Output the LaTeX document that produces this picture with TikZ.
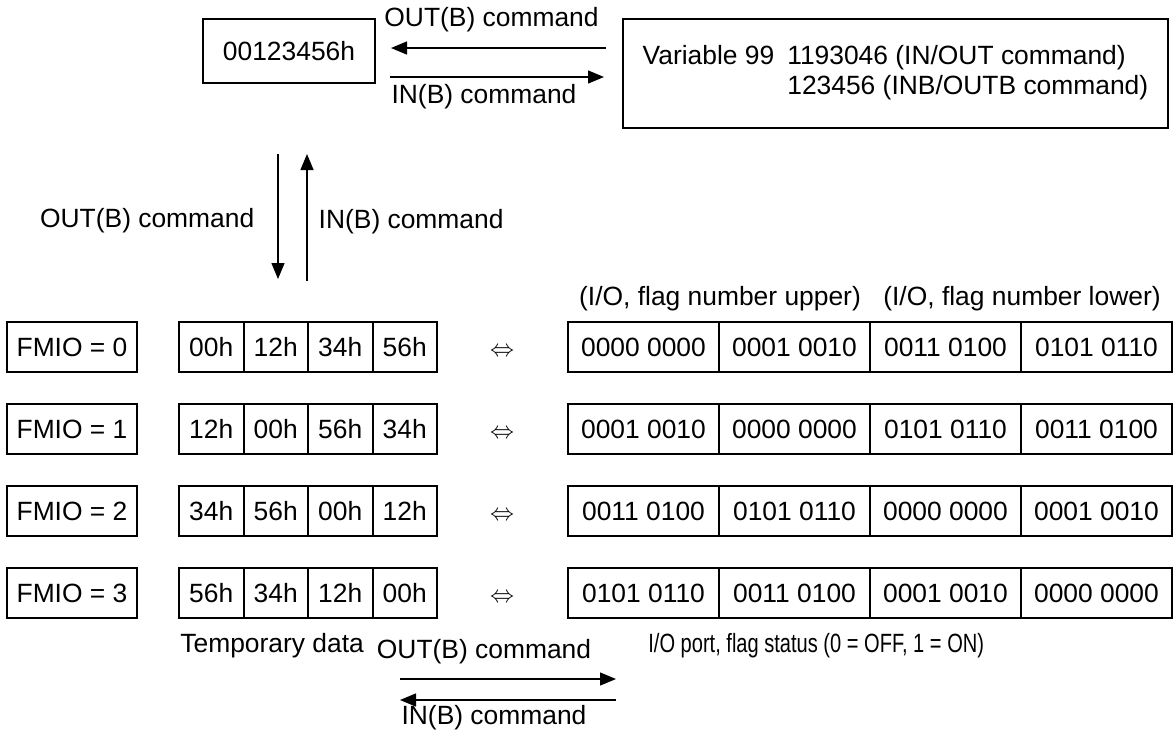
\documentclass[tikz,border=0pt]{standalone}
\usepackage{fontspec}
\usepackage{graphicx}
\setmainfont{Liberation Sans}
\usetikzlibrary{positioning,arrows.meta}

\begin{document}
\begin{tikzpicture}[>={Triangle[length=8pt,width=6.5pt]},node distance=32.25pt,on grid,
  inner sep=0pt,font=\fontsize{13.2}{15}\selectfont,
  box/.style={draw,line width=1pt},
  cell/.style={box,minimum width=32.25pt,minimum height=25pt},
  wide/.style={box,minimum width=75.5pt,minimum height=25pt},
  fmio/.style={box,minimum width=65pt,minimum height=25pt},
  equiv/.style={yshift=-2.5pt},
  arr/.style={->,line width=0.7pt}]
  \useasboundingbox (0,0) rectangle (587.5pt,-368pt);
  % value and variable
  \node[box,minimum width=86pt,minimum height=32pt] (val) at (144.5pt,-25.5pt) {00123456h};
  \node[box,minimum width=272.5pt,minimum height=54.5pt] (var) at (447.75pt,-36.75pt)
    {\begin{tabular}{@{}l@{\hspace{6.5pt}}l@{}}Variable 99 & 1193046 (IN/OUT command)\\
      & 123456 (INB/OUTB command)\end{tabular}};
  \draw[arr] ([xshift=-8pt,yshift=12.75pt]var.west) -- ([xshift=7.5pt,yshift=1.5pt]val.east)
    node[midway,xshift=-3.5pt,yshift=14pt] {OUT(B) command};
  \draw[arr] ([xshift=7pt,yshift=-13pt]val.east) -- ([xshift=-9pt,yshift=-1.75pt]var.west)
    node[midway,xshift=-6.5pt,yshift=-10pt] {IN(B) command};
  \draw[arr] ([xshift=-5.5pt,yshift=-35pt]val.south) -- ++(0,-62.5pt)
    node[midway,left=11.5pt,yshift=-2pt] {OUT(B) command};
  \draw[arr] ([xshift=9pt,yshift=-98.5pt]val.south) -- ++(0,63.5pt)
    node[midway,right=5.5pt,yshift=-2pt] {IN(B) command};

  % FMIO = 0
  \node[fmio] (f0) at (36pt,-173.5pt) {FMIO = 0};
  \node[cell] (t00) [right=69.625pt of f0] {00h};
  \node[cell] (t01) [right=of t00] {12h};
  \node[cell] (t02) [right=of t01] {34h};
  \node[cell] (t03) [right=of t02] {56h};
  \node[equiv] (e0) [right=48.625pt of t03] {$\Leftrightarrow$};
  \node[wide] (b00) [right=119.375pt of t03] {0000 0000};
  \node[wide] (b01) [right=75.5pt of b00] {0001 0010};
  \node[wide] (b02) [right=75.5pt of b01] {0011 0100};
  \node[wide] (b03) [right=75.5pt of b02] {0101 0110};
  \node (up) [above=5pt of b00.north east] {(I/O, flag number upper)};
  \node (lo) [above=5pt of b02.north east] {(I/O, flag number lower)};

  % FMIO = 1
  \node[fmio] (f1) [below=41pt of f0] {FMIO = 1};
  \node[cell] (t10) [right=69.625pt of f1] {12h};
  \node[cell] (t11) [right=of t10] {00h};
  \node[cell] (t12) [right=of t11] {56h};
  \node[cell] (t13) [right=of t12] {34h};
  \node[equiv] (e1) [right=48.625pt of t13] {$\Leftrightarrow$};
  \node[wide] (b10) [right=119.375pt of t13] {0001 0010};
  \node[wide] (b11) [right=75.5pt of b10] {0000 0000};
  \node[wide] (b12) [right=75.5pt of b11] {0101 0110};
  \node[wide] (b13) [right=75.5pt of b12] {0011 0100};

  % FMIO = 2
  \node[fmio] (f2) [below=41pt of f1] {FMIO = 2};
  \node[cell] (t20) [right=69.625pt of f2] {34h};
  \node[cell] (t21) [right=of t20] {56h};
  \node[cell] (t22) [right=of t21] {00h};
  \node[cell] (t23) [right=of t22] {12h};
  \node[equiv] (e2) [right=48.625pt of t23] {$\Leftrightarrow$};
  \node[wide] (b20) [right=119.375pt of t23] {0011 0100};
  \node[wide] (b21) [right=75.5pt of b20] {0101 0110};
  \node[wide] (b22) [right=75.5pt of b21] {0000 0000};
  \node[wide] (b23) [right=75.5pt of b22] {0001 0010};

  % FMIO = 3
  \node[fmio] (f3) [below=41pt of f2] {FMIO = 3};
  \node[cell] (t30) [right=69.625pt of f3] {56h};
  \node[cell] (t31) [right=of t30] {34h};
  \node[cell] (t32) [right=of t31] {12h};
  \node[cell] (t33) [right=of t32] {00h};
  \node[equiv] (e3) [right=48.625pt of t33] {$\Leftrightarrow$};
  \node[wide] (b30) [right=119.375pt of t33] {0101 0110};
  \node[wide] (b31) [right=75.5pt of b30] {0011 0100};
  \node[wide] (b32) [right=75.5pt of b31] {0001 0010};
  \node[wide] (b33) [right=75.5pt of b32] {0000 0000};

  \node[anchor=west] (tmp) at ([xshift=1pt,yshift=-13.5pt]t30.south west) {Temporary data};
  \node[anchor=west] (port) at ([xshift=40.5pt,yshift=-13.5pt]b30.south west)
    {\scalebox{0.76}[1]{I/O port, flag status (0 = OFF, 1 = ON)}};
  \coordinate (ol) at ([shift={(-51pt,-40.5pt)}]e3.center);
  \coordinate (or) at ([shift={(57pt,-40.5pt)}]e3.center);
  \draw[arr] (ol) -- (or) node[midway,xshift=-12pt,yshift=13.5pt] {OUT(B) command};
  \draw[arr] ([yshift=-10.5pt]or) -- ([yshift=-10.5pt]ol) node[midway,xshift=-7pt,yshift=-9pt] {IN(B) command};
\end{tikzpicture}
\end{document}
